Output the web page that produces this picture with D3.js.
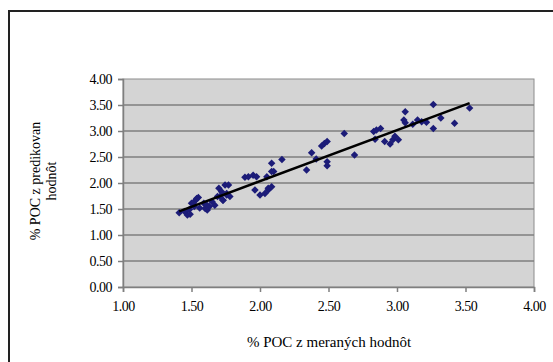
<!DOCTYPE html>
<html lang="sk">
<head>
  <meta charset="UTF-8" />
  <title>POC scatter</title>
  <script src="https://d3js.org/d3.v7.min.js"></script>
  <style>
    body { margin: 0; background: #fff; }
    text { font-family: "Liberation Serif", "Times New Roman", serif; fill: #000; }
    .tick text { font-size: 14px; letter-spacing: -0.5px; }
  </style>
</head>
<body>
  <svg width="553" height="362"></svg>

  <script>
    // % POC from measured values (x) and from predicted values (y)
    const measured = [
      1.41, 1.47, 1.485, 1.50, 1.52, 1.53, 1.55, 1.56, 1.59, 1.615,
      1.63, 1.65, 1.67, 1.69, 1.70, 1.72, 1.73, 1.745, 1.757, 1.77,
      1.78, 1.60, 1.61, 1.513, 1.538, 1.45, 1.49, 1.708, 1.73, 1.757,
      1.89, 1.915, 1.95, 1.975, 1.963, 2.00, 2.036, 2.06, 2.10, 2.05,
      2.085, 2.085, 2.06, 2.085, 2.16, 2.34, 2.377, 2.41, 2.45, 2.47,
      2.49, 2.49, 2.49, 2.615, 2.69, 2.83, 2.85, 2.88, 2.84, 2.91,
      2.95, 2.97, 3.01, 2.985, 3.06, 3.05, 3.06, 3.115, 3.15, 3.18,
      3.215, 3.265, 3.265, 3.32, 3.42, 3.53
    ];
    const predicted = [
      1.43, 1.385, 1.49, 1.61, 1.55, 1.67, 1.72, 1.52, 1.61, 1.48,
      1.55, 1.64, 1.57, 1.74, 1.90, 1.83, 1.67, 1.96, 1.80, 1.96,
      1.74, 1.51, 1.58, 1.61, 1.70, 1.45, 1.40, 1.74, 1.67, 1.77,
      2.11, 2.12, 2.15, 2.12, 1.865, 1.77, 1.80, 1.865, 2.22, 2.12,
      2.38, 2.22, 1.90, 1.93, 2.45, 2.25, 2.58, 2.46, 2.71, 2.76,
      2.80, 2.41, 2.33, 2.95, 2.54, 2.99, 3.02, 3.05, 2.84, 2.80,
      2.75, 2.83, 2.83, 2.90, 3.37, 3.21, 3.16, 3.13, 3.21, 3.18,
      3.17, 3.51, 3.05, 3.25, 3.15, 3.44
    ];
    const xTicks = [1.0, 1.5, 2.0, 2.5, 3.0, 3.5, 4.0];
    const yTicks = [0.0, 0.5, 1.0, 1.5, 2.0, 2.5, 3.0, 3.5, 4.0];

    const points = measured.map((x, i) => ({ x, y: predicted[i] }));

    const svg = d3.select("svg");

    // chart frame
    svg.append("rect")
      .attr("x", 9).attr("y", 11)
      .attr("width", 560).attr("height", 370)
      .attr("fill", "#fff")
      .attr("stroke", "#222").attr("stroke-width", 2);

    const pL = 123, pT = 79, pR = 534, pB = 287;

    const x = d3.scaleLinear().domain([1, 4]).range([pL, pR]);
    const y = d3.scaleLinear().domain([0, 4]).range([pB, pT]);

    svg.append("rect")
      .attr("x", pL).attr("y", pT)
      .attr("width", pR - pL).attr("height", pB - pT)
      .attr("fill", "#d4d4d4")
      .attr("stroke", "#8c8c8c").attr("stroke-width", 1);

    // horizontal gridlines
    svg.append("g")
      .selectAll("line")
      .data(yTicks.slice(1, -1))
      .join("line")
      .attr("x1", pL).attr("x2", pR)
      .attr("y1", d => y(d)).attr("y2", d => y(d))
      .attr("stroke", "#7f7f7f").attr("stroke-width", 1.5);

    const xAxis = svg.append("g")
      .attr("transform", `translate(0,${pB})`)
      .call(d3.axisBottom(x).tickValues(xTicks).tickFormat(d3.format(".2f")).tickSize(5).tickPadding(9));
    const yAxis = svg.append("g")
      .attr("transform", `translate(${pL},0)`)
      .call(d3.axisLeft(y).tickValues(yTicks).tickFormat(d3.format(".2f")).tickSize(5).tickPadding(6));
    [xAxis, yAxis].forEach(a => {
      a.select(".domain").attr("stroke", "#7f7f7f").attr("stroke-width", 1.5);
      a.selectAll(".tick line").attr("stroke", "#7f7f7f").attr("stroke-width", 1.5);
    });

    // data markers (square diamonds)
    const diamond = d3.symbol().type(d3.symbolSquare).size(28);
    svg.append("g")
      .selectAll("path")
      .data(points)
      .join("path")
      .attr("d", diamond)
      .attr("transform", d => `translate(${x(d.x)},${y(d.y)}) rotate(45)`)
      .attr("fill", "#1c1c78");

    // linear trendline (least squares)
    const mx = d3.mean(points, d => d.x), my = d3.mean(points, d => d.y);
    const slope = d3.sum(points, d => (d.x - mx) * (d.y - my)) / d3.sum(points, d => (d.x - mx) ** 2);
    const icpt = my - slope * mx;
    const [x0, x1] = d3.extent(measured);
    svg.append("line")
      .attr("x1", x(x0)).attr("y1", y(icpt + slope * x0))
      .attr("x2", x(x1)).attr("y2", y(icpt + slope * x1))
      .attr("stroke", "#000").attr("stroke-width", 2.5);

    // axis titles
    svg.append("text")
      .attr("x", 329).attr("y", 347)
      .attr("text-anchor", "middle")
      .attr("font-size", 15)
      .text("% POC z meraných hodnôt");

    const yt = svg.append("text")
      .attr("transform", "translate(40,181) rotate(-90)")
      .attr("text-anchor", "middle")
      .attr("font-size", 14);
    yt.append("tspan").attr("x", 0).attr("dy", 0).text("% POC z predikovan");
    yt.append("tspan").attr("x", 0).attr("dy", 16).text("hodnôt");
  </script>
</body>
</html>
